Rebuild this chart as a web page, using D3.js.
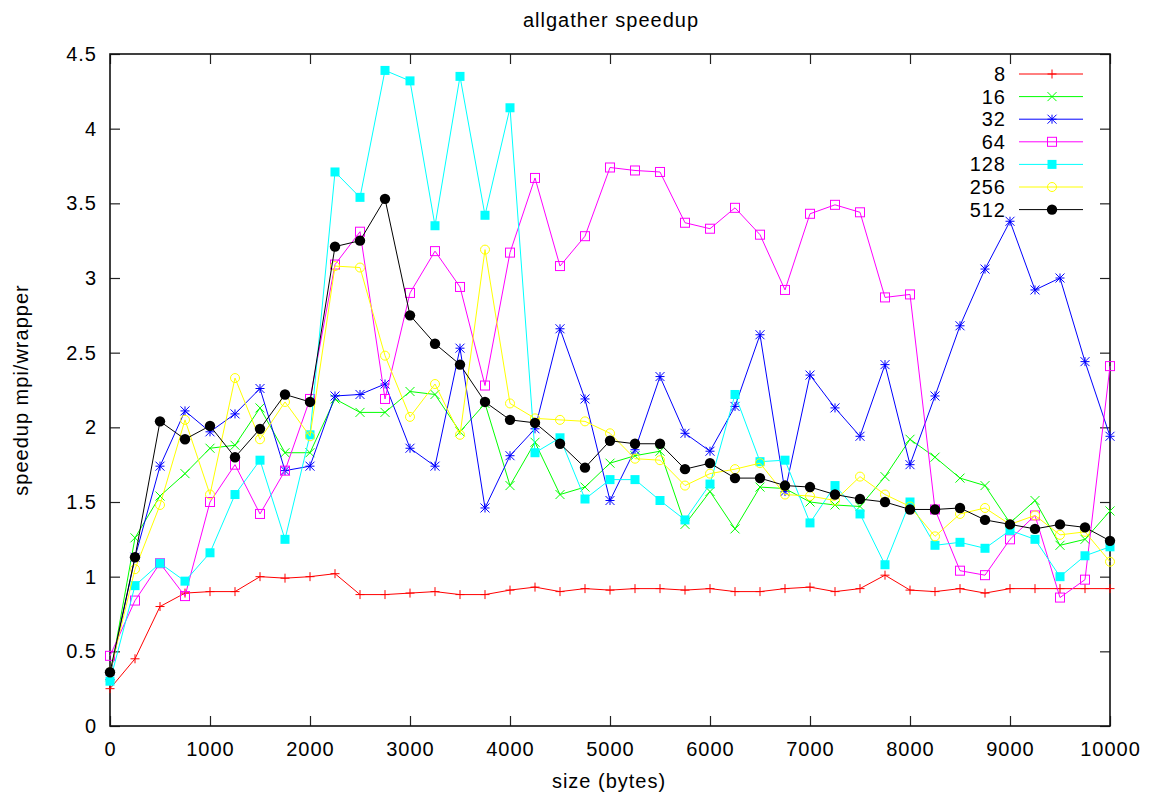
<!DOCTYPE html>
<html>
<head>
<meta charset="utf-8">
<script src="https://cdn.jsdelivr.net/npm/d3@7"></script>
<style>
  body { margin: 0; background: #fff; }
  text { font-family: "Liberation Sans", Arial, sans-serif; font-size: 20px; letter-spacing: 1px; fill: #000; }
</style>
</head>
<body>
<div id="chart"></div>
<script>
'use strict';

// message sizes (bytes)
const sizes = [0, 250, 500, 750, 1000, 1250, 1500, 1750, 2000, 2250, 2500, 2750, 3000, 3250, 3500, 3750,
  4000, 4250, 4500, 4750, 5000, 5250, 5500, 5750, 6000, 6250, 6500, 6750, 7000, 7250, 7500, 7750,
  8000, 8250, 8500, 8750, 9000, 9250, 9500, 9750, 10000];

const s8 = [0.25,0.45,0.80,0.89,0.90,0.90,1.00,0.99,1.00,1.02,0.88,0.88,0.89,0.90,0.88,0.88,0.91,0.93,0.90,0.92,
  0.91,0.92,0.92,0.91,0.92,0.90,0.90,0.92,0.93,0.90,0.92,1.01,0.91,0.90,0.92,0.89,0.92,0.92,0.92,0.92,0.92];
const s16 = [0.33,1.26,1.54,1.69,1.86,1.88,2.13,1.83,1.83,2.19,2.10,2.10,2.24,2.22,1.97,2.16,1.61,1.90,1.55,1.60,
  1.76,1.81,1.84,1.35,1.57,1.32,1.60,1.59,1.50,1.48,1.47,1.67,1.92,1.80,1.66,1.61,1.36,1.51,1.21,1.25,1.44];
const s32 = [0.34,1.13,1.74,2.11,1.97,2.09,2.26,1.71,1.74,2.21,2.22,2.29,1.86,1.74,2.53,1.46,1.81,1.99,2.66,2.19,
  1.51,1.85,2.34,1.96,1.84,2.14,2.62,1.57,2.35,2.13,1.94,2.42,1.75,2.21,2.68,3.06,3.38,2.92,3.00,2.44,1.94];
const s64 = [0.47,0.84,1.09,0.87,1.50,1.75,1.42,1.71,2.19,3.09,3.31,2.19,2.90,3.18,2.94,2.28,3.17,3.67,3.08,3.28,
  3.74,3.72,3.71,3.37,3.33,3.47,3.29,2.92,3.43,3.49,3.44,2.87,2.89,1.45,1.04,1.01,1.25,1.41,0.86,0.98,2.41];
const s128 = [0.30,0.94,1.09,0.97,1.16,1.55,1.78,1.25,1.95,3.71,3.54,4.39,4.32,3.35,4.35,3.42,4.14,1.83,1.93,1.52,
  1.65,1.65,1.51,1.38,1.62,2.22,1.77,1.78,1.36,1.61,1.42,1.08,1.50,1.21,1.23,1.19,1.31,1.25,1.00,1.14,1.20];
const s256 = [0.36,1.05,1.48,2.05,1.55,2.33,1.92,2.17,1.94,3.08,3.07,2.48,2.07,2.29,1.95,3.19,2.16,2.06,2.05,2.04,
  1.96,1.79,1.78,1.61,1.69,1.72,1.76,1.55,1.54,1.51,1.67,1.55,1.47,1.27,1.42,1.46,1.35,1.41,1.28,1.30,1.10];
const s512 = [0.36,1.13,2.04,1.92,2.01,1.80,1.99,2.22,2.17,3.21,3.25,3.53,2.75,2.56,2.42,2.17,2.05,2.03,1.89,1.73,
  1.91,1.89,1.89,1.72,1.76,1.66,1.66,1.61,1.60,1.55,1.52,1.50,1.45,1.45,1.46,1.38,1.35,1.32,1.35,1.33,1.24];

const seriesNames = ["8", "16", "32", "64", "128", "256", "512"];
const seriesValues = [s8, s16, s32, s64, s128, s256, s512];
const seriesColors = ["#ff0000", "#00ff00", "#0000ff", "#ff00ff", "#00ffff", "#ffff00", "#000000"];
const seriesMarks = ["plus", "cross", "star", "square", "fsquare", "circle", "fcircle"];

const xTicks = [0, 1000, 2000, 3000, 4000, 5000, 6000, 7000, 8000, 9000, 10000];
const yTicks = [0, 0.5, 1, 1.5, 2, 2.5, 3, 3.5, 4, 4.5];

const W = 1152, H = 793;
const margin = {top: 54, right: 42, bottom: 67, left: 110};
const width = W - margin.left - margin.right,
      height = H - margin.top - margin.bottom;

const svg = d3.select("#chart").append("svg")
  .attr("width", W).attr("height", H);

const g = svg.append("g")
  .attr("transform", "translate(" + margin.left + "," + margin.top + ")");

let x = d3.scaleLinear().domain([0, 10000]).range([0, width]);
let y = d3.scaleLinear().domain([0, 4.5]).range([height, 0]);

// axes, ticks pointing inward like gnuplot
g.append("g").attr("transform", "translate(0," + height + ")")
  .call(d3.axisBottom(x).tickValues(xTicks).tickSize(-10).tickPadding(16).tickFormat(d3.format("d")));
g.append("g")
  .call(d3.axisTop(x).tickValues(xTicks).tickSize(-10).tickFormat(""));
g.append("g")
  .call(d3.axisLeft(y).tickValues(yTicks).tickSize(-10).tickPadding(13).tickFormat(d => d));
g.append("g").attr("transform", "translate(" + width + ",0)")
  .call(d3.axisRight(y).tickValues(yTicks).tickSize(-10).tickFormat(""));

g.selectAll(".domain").remove();
g.selectAll(".tick line").attr("stroke", "#222").attr("stroke-width", 1.2);
g.selectAll(".tick text").style("font-size", "20px").attr("fill", "#000");

// frame
g.append("rect")
  .attr("width", width).attr("height", height)
  .attr("fill", "none").attr("stroke", "#111").attr("stroke-width", 1.6);

// point symbols
function drawMark(sel, type, color) {
  const r = 4.5;
  if (type == "plus") {
    sel.append("path").attr("d", `M${-r},0H${r}M0,${-r}V${r}`).attr("stroke", color).attr("fill", "none");
  } else if (type == "cross") {
    sel.append("path").attr("d", `M${-r},${-r}L${r},${r}M${-r},${r}L${r},${-r}`).attr("stroke", color).attr("fill", "none");
  } else if (type == "star") {
    sel.append("path").attr("d", `M${-r},0H${r}M0,${-r}V${r}M${-r},${-r}L${r},${r}M${-r},${r}L${r},${-r}`)
      .attr("stroke", color).attr("fill", "none");
  } else if (type == "square") {
    sel.append("rect").attr("x", -r).attr("y", -r).attr("width", 2 * r).attr("height", 2 * r)
      .attr("stroke", color).attr("fill", "none");
  } else if (type == "fsquare") {
    sel.append("rect").attr("x", -r).attr("y", -r).attr("width", 2 * r).attr("height", 2 * r)
      .attr("fill", color);
  } else if (type == "circle") {
    sel.append("circle").attr("r", r).attr("stroke", color).attr("fill", "none");
  } else if (type == "fcircle") {
    sel.append("circle").attr("r", 5.2).attr("fill", color);
  }
}

const line = d3.line()
  .x((d, i) => x(sizes[i]))
  .y(d => y(d));

seriesValues.forEach(function(vals, k) {
  const color = seriesColors[k];
  g.append("path")
    .datum(vals)
    .attr("d", line)
    .attr("fill", "none")
    .attr("stroke", color)
    .attr("stroke-width", 1);

  g.append("g").selectAll("g")
    .data(vals)
    .enter()
    .append("g")
    .attr("transform", (d, i) => "translate(" + x(sizes[i]) + "," + y(d) + ")")
    .each(function() { drawMark(d3.select(this), seriesMarks[k], color); });
});

// legend
const legend = svg.append("g");
seriesNames.forEach(function(name, k) {
  const ly = 74 + k * 22.6;
  legend.append("text")
    .attr("x", 1006).attr("y", ly).attr("dy", "0.35em")
    .attr("text-anchor", "end")
    .text(name);
  legend.append("line")
    .attr("x1", 1019).attr("x2", 1083).attr("y1", ly).attr("y2", ly)
    .attr("stroke", seriesColors[k]).attr("stroke-width", 1);
  const m = legend.append("g").attr("transform", "translate(1052," + ly + ")");
  drawMark(m, seriesMarks[k], seriesColors[k]);
});

// titles
svg.append("text")
  .attr("x", 611).attr("y", 27)
  .attr("text-anchor", "middle")
  .text("allgather speedup");

svg.append("text")
  .attr("x", 609).attr("y", 788)
  .attr("text-anchor", "middle")
  .text("size (bytes)");

svg.append("text")
  .attr("transform", "translate(28,390) rotate(-90)")
  .attr("text-anchor", "middle")
  .text("speedup mpi/wrapper");
</script>
</body>
</html>
